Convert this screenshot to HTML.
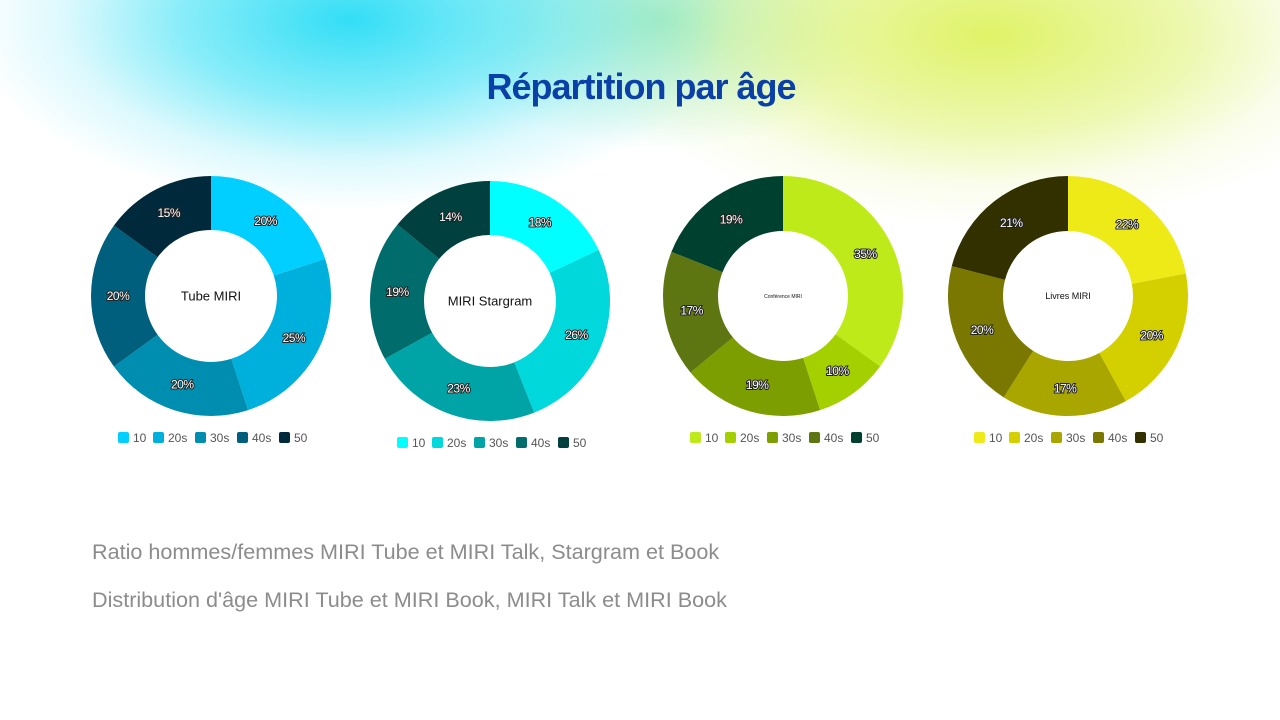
<!DOCTYPE html>
<html><head><meta charset="utf-8">
<style>
html,body{margin:0;padding:0}
body{width:1280px;height:720px;position:relative;overflow:hidden;background:#fff;font-family:"Liberation Sans",sans-serif}
.bg{position:absolute;left:0;top:0;width:1280px;height:720px;
background:
radial-gradient(ellipse 380px 190px at 350px 20px, rgba(40,220,245,0.95), rgba(60,225,245,0.6) 45%, rgba(80,225,245,0.2) 75%, rgba(80,225,245,0) 100%),
radial-gradient(ellipse 400px 190px at 990px 35px, rgba(222,242,95,0.95), rgba(222,242,110,0.55) 50%, rgba(222,242,120,0.15) 78%, rgba(222,242,120,0) 100%),
radial-gradient(ellipse 220px 130px at 660px 20px, rgba(150,232,190,0.85), rgba(150,232,190,0) 100%);
}
h1{position:absolute;left:0;width:1282px;top:66px;margin:0;text-align:center;font-size:36px;color:#0a40a8;font-weight:bold;letter-spacing:-1px}
.txt{position:absolute;left:92px;font-size:21.6px;color:#8c8c8c}
svg{position:absolute;left:0;top:0}
</style></head><body>
<div class="bg"></div>
<h1>Répartition par âge</h1>
<div class="txt" style="top:539px">Ratio hommes/femmes MIRI Tube et MIRI Talk, Stargram et Book</div>
<div class="txt" style="top:587px">Distribution d'âge MIRI Tube et MIRI Book, MIRI Talk et MIRI Book</div>
<svg id="s" width="1280" height="720" xmlns="http://www.w3.org/2000/svg"></svg>
<script>
var charts=[
{cx:211,cy:296,ri:66,name:"Tube MIRI",fs:13,v:[20,25,20,20,15],c:["#00cfff","#00b0dc","#008eb0","#005f7c","#002a3c"],lx:118,ly:437},
{cx:490,cy:301,ri:66,name:"MIRI Stargram",fs:13,v:[18,26,23,19,14],c:["#00ffff","#00d8dc","#00a4a6","#006c6c","#00403e"],lx:397,ly:442},
{cx:783,cy:296,ri:65,name:"Conférence MIRI",fs:5,v:[35,10,19,17,19],c:["#bdea18","#a4d000","#7c9e00","#5e7612","#00402e"],lx:690,ly:437},
{cx:1068,cy:296,ri:65,name:"Livres MIRI",fs:9,v:[22,20,17,20,21],c:["#eeea18","#d4d000","#aaa600","#7a7800","#333000"],lx:974,ly:437}];
var ro=120,out="",labs=["10","20s","30s","40s","50"];
function pt(cx,cy,r,a){return [cx+r*Math.sin(a),cy-r*Math.cos(a)];}
charts.forEach(function(ch){
 var a=0;
 ch.v.forEach(function(v,i){
  var a2=a+v/100*2*Math.PI,l=(a2-a)>Math.PI?1:0;
  var p1=pt(ch.cx,ch.cy,ro,a),p2=pt(ch.cx,ch.cy,ro,a2),p3=pt(ch.cx,ch.cy,ch.ri,a2),p4=pt(ch.cx,ch.cy,ch.ri,a);
  out+='<path fill="'+ch.c[i]+'" d="M'+p1+' A'+ro+','+ro+' 0 '+l+' 1 '+p2+' L'+p3+' A'+ch.ri+','+ch.ri+' 0 '+l+' 0 '+p4+' Z"/>';
  var m=pt(ch.cx,ch.cy,(ro+ch.ri)/2,(a+a2)/2);
  out+='<text x="'+m[0]+'" y="'+(m[1]+4)+'" text-anchor="middle" font-size="12" fill="#fff" stroke="#222" stroke-width="2" paint-order="stroke" font-family="Liberation Sans,sans-serif" letter-spacing="-0.5">'+v+'%</text>';
  a=a2;
 });
 out+='<text x="'+ch.cx+'" y="'+(ch.cy+ch.fs*0.35)+'" text-anchor="middle" font-size="'+ch.fs+'" fill="#111" font-family="Liberation Sans,sans-serif">'+ch.name+'</text>';
 var x=ch.lx;
 labs.forEach(function(t,i){
  out+='<rect x="'+x+'" y="'+(ch.ly-5)+'" width="11" height="11" rx="2" fill="'+ch.c[i]+'"/>';
  out+='<text x="'+(x+15)+'" y="'+(ch.ly+5)+'" font-size="12" fill="#555" font-family="Liberation Sans,sans-serif">'+t+'</text>';
  x+=15+(t.length==2?22:28)-2+ (t.length==3?1:0);
 });
});
document.getElementById("s").innerHTML=out;
</script>
</body></html>
